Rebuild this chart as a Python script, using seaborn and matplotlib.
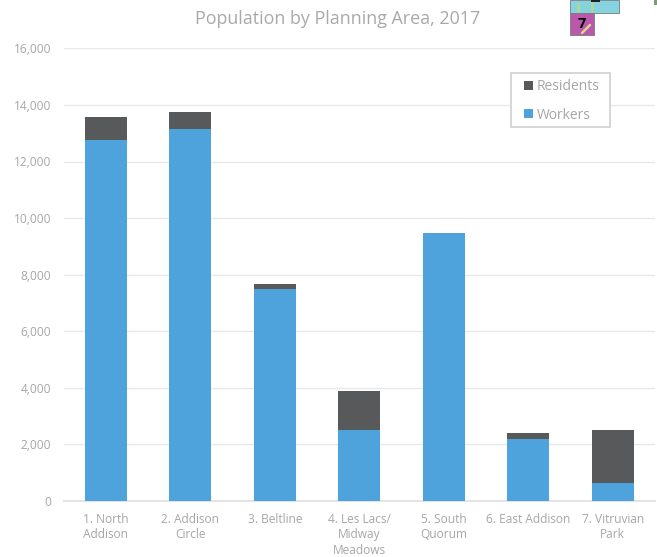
import matplotlib
matplotlib.use("Agg")
import matplotlib.pyplot as plt
from matplotlib.lines import Line2D
from matplotlib.patches import Rectangle
import pandas as pd
import seaborn as sns

categories = ["1. North\nAddison", "2. Addison\nCircle", "3. Beltline",
              "4. Les Lacs/\nMidway\nMeadows", "5. South\nQuorum",
              "6. East Addison", "7. Vitruvian\nPark"]
workers = [12760, 13150, 7490, 2490, 9480, 2170, 630]
residents = [820, 590, 170, 1400, 0, 220, 1870]
yticks = [0, 2000, 4000, 6000, 8000, 10000, 12000, 14000, 16000]

BLUE = "#4ea3dc"
DARK = "#58595b"
GREY = "#a6a6a6"
W, H = 657, 557

sns.set_theme(style="white")
plt.rcParams["font.family"] = ["Open Sans", "DejaVu Sans"]

df = pd.DataFrame({"cat": categories, "Workers": workers, "Residents": residents})
df["Total"] = df["Workers"] + df["Residents"]

fig = plt.figure(figsize=(W / 100, H / 100), dpi=100, facecolor="white")
ax = fig.add_axes([63.5 / W, 1 - 500.8 / H, (655 - 63.5) / W, (500.8 - 48.4) / H])

sns.barplot(data=df, x="cat", y="Total", color=DARK, width=0.5, saturation=1, ax=ax,
            label="Residents", zorder=3, linewidth=0)
sns.barplot(data=df, x="cat", y="Workers", color=BLUE, width=0.5, saturation=1, ax=ax,
            label="Workers", zorder=3, linewidth=0)

ax.set_xlim(-0.5, 6.5)
ax.set_ylim(0, 16000)
ax.set_yticks(yticks)
ax.set_yticklabels([f"{v:,}" for v in yticks])
ax.set_xlabel("")
ax.set_ylabel("")
ax.grid(axis="y", color="#e8e8e8", linewidth=1, zorder=0)
ax.set_axisbelow(True)
for name, spine in ax.spines.items():
    spine.set_visible(name == "bottom")
ax.spines["bottom"].set_color("#e0e0e0")
ax.tick_params(axis="both", length=0, labelcolor=GREY, labelsize=8.6)
ax.tick_params(axis="x", pad=8.5)
ax.tick_params(axis="y", pad=9)
for t in ax.get_xticklabels():
    t.set_linespacing(1.25)

fig.text(337.5 / W, 1 - 18.5 / H, "Population by Planning Area, 2017", color="#a9a9a9",
         fontsize=12.9, ha="center", va="center")


def px_rect(x0, y0, x1, y1, color, edge="none", lw=0.0, z=1):
    rect = Rectangle((x0 / W, 1 - y1 / H), (x1 - x0) / W, (y1 - y0) / H,
                     transform=fig.transFigure, facecolor=color,
                     edgecolor=edge, linewidth=lw, zorder=z)
    fig.add_artist(rect)


# Legend: frame drawn separately so its padding can differ per axis
px_rect(511, 73, 610, 127.3, "white", "#d0d0d0", 1.2, z=4)
handles, labels = ax.get_legend_handles_labels()
ax.get_legend().remove()
leg = fig.legend(handles, labels, loc="upper left", bbox_to_anchor=(524 / W, 1 - 79.5 / H),
                 frameon=False, fontsize=10, labelcolor=GREY, handlelength=0.65,
                 handleheight=0.65, handletextpad=0.29, labelspacing=0.94,
                 borderaxespad=0, borderpad=0)
leg.set_zorder(5)

# Fragment of the map inset at the top edge
px_rect(569.5, 0, 618.5, 13, "#86d2de", "#6f7f80", 0.6, z=2)
px_rect(569.5, 13, 593.5, 35, "#bb58ab", "#6f7f80", 0.6, z=2)
px_rect(654, 0, 657, 5, "#7f9a78", z=2)
px_rect(577, 3, 580, 13, "#a8d8a0", z=3)
px_rect(591, 0, 594, 13, "#a8d8a0", z=3)
px_rect(591, 0, 600, 2, "#202020", z=3)
fig.add_artist(Line2D([582 / W, 590 / W], [1 - 33 / H, 1 - 25 / H], color="#d8d890",
                      linewidth=1.8, zorder=3))
fig.text(582 / W, 1 - 23.5 / H, "7", color="black", fontsize=10.5, fontweight="bold",
         ha="center", va="center", zorder=4)

fig.savefig("out.png", dpi=100, facecolor="white")
